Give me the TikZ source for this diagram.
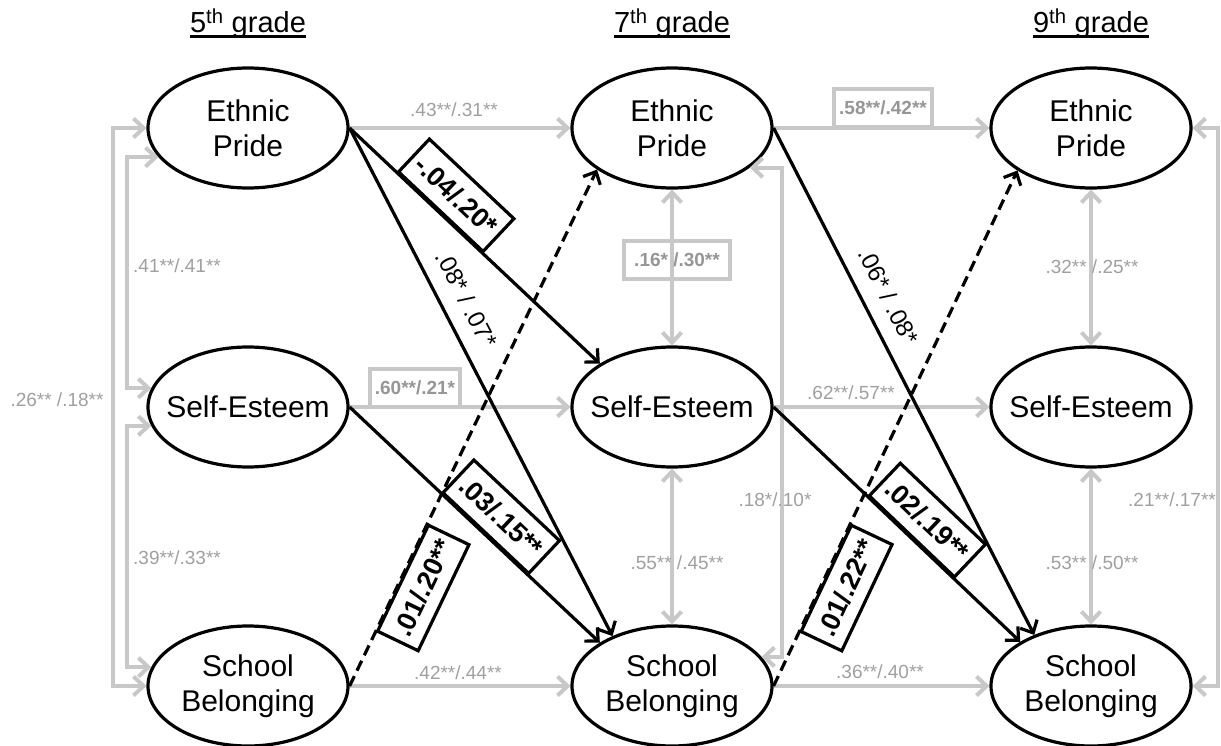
\documentclass[tikz,border=0pt]{standalone}
\usepackage{fontspec}
\setmainfont{Liberation Sans}
\usetikzlibrary{shapes.geometric,arrows.meta}
\definecolor{lgray}{RGB}{200,200,200}
\definecolor{tgray}{RGB}{160,160,160}
\definecolor{bgray}{RGB}{150,150,150}
\newcommand{\ellfont}{\fontsize{30}{35}\selectfont}
\newcommand{\hdrfont}{\fontsize{29}{34}\selectfont}
\newcommand{\glabfont}{\fontsize{19}{22}\selectfont}
\newcommand{\blabfont}{\fontsize{24}{28}\selectfont}
\newcommand{\bboxfont}{\fontsize{27}{31}\selectfont\bfseries}
\newcommand{\hdrul}[1]{\setbox0\hbox{#1\textsuperscript{th} grade}\rlap{\rule[-5pt]{\wd0}{2.6pt}}\box0}
\tikzset{
  ell/.style={ellipse, draw, line width=3.2pt, fill=white, minimum width=200pt, minimum height=120pt, inner sep=0pt},
  garr/.style={draw=lgray, line width=4pt, -{Straight Barb[length=10pt,width=19pt]}},
  gdbl/.style={draw=lgray, line width=4pt, {Straight Barb[length=10pt,width=19pt]}-{Straight Barb[length=10pt,width=19pt]}},
  barr/.style={draw=black, line width=3.2pt, -{Straight Barb[length=10pt,width=19pt]}},
  dsh/.style={dash pattern=on 11pt off 6pt},
  glab/.style={text=tgray, font=\glabfont, inner sep=0pt},
  gbox/.style={draw=lgray, line width=3.5pt, text=bgray, font=\glabfont\bfseries, inner xsep=5pt, inner ysep=0pt, minimum height=38pt},
  bbox/.style={draw=black, solid, line width=3.2pt, font=\bboxfont, inner xsep=7pt, inner ysep=0pt, minimum height=45pt, sloped},
  blab/.style={font=\blabfont, inner xsep=0pt, inner ysep=15pt, sloped}
}
\begin{document}
\begin{tikzpicture}[x=1pt,y=-1pt]
\fill[white] (0,0) rectangle (1221,746);
\useasboundingbox (0,0) rectangle (1221,746);

% headers
\node[anchor=base, font=\hdrfont] (h5) at (248,33) {\hdrul{5}};
\node[anchor=base, font=\hdrfont] (h7) at (672,33) {\hdrul{7}};
\node[anchor=base, font=\hdrfont] (h9) at (1091,33) {\hdrul{9}};

% ellipses
\node[ell, label={[font=\ellfont, align=center]center:{Ethnic\\Pride}}] (ep5) at (248,128) {};
\node[ell, label={[font=\ellfont]center:Self-Esteem}] (se5) at (248,407) {};
\node[ell, label={[font=\ellfont, align=center]center:{School\\Belonging}}] (sb5) at (248,686) {};
\node[ell, label={[font=\ellfont, align=center]center:{Ethnic\\Pride}}] (ep7) at (672,128) {};
\node[ell, label={[font=\ellfont]center:Self-Esteem}] (se7) at (672,407) {};
\node[ell, label={[font=\ellfont, align=center]center:{School\\Belonging}}] (sb7) at (672,686) {};
\node[ell, label={[font=\ellfont, align=center]center:{Ethnic\\Pride}}] (ep9) at (1091,128) {};
\node[ell, label={[font=\ellfont]center:Self-Esteem}] (se9) at (1091,407) {};
\node[ell, label={[font=\ellfont, align=center]center:{School\\Belonging}}] (sb9) at (1091,686) {};

% bracket coordinates
\coordinate (lx1) at (113,0);
\coordinate (lx2) at (127,0);
\coordinate (mx) at (782,0);
\coordinate (rx) at (1218,0);

% gray autoregressive paths
\draw[garr] (ep5.east) -- (ep7.west);
\draw[garr] (se5.east) -- (se7.west);
\draw[garr] (sb5.east) -- (sb7.west);
\draw[garr] (ep7.east) -- (ep9.west);
\draw[garr] (se7.east) -- (se9.west);
\draw[garr] (sb7.east) -- (sb9.west);

% gray within-time correlations
\draw[gdbl] (ep7.south) -- (se7.north);
\draw[gdbl] (se7.south) -- (sb7.north);
\draw[gdbl] (ep9.south) -- (se9.north);
\draw[gdbl] (se9.south) -- (sb9.north);
\draw[gdbl] (ep5.west) -- (ep5.west -| lx1) -- (sb5.west -| lx1) -- (sb5.west);
\draw[gdbl] (ep5.198) -- (ep5.198 -| lx2) -- (se5.169 -| lx2) -- (se5.169);
\draw[gdbl] (se5.191) -- (se5.191 -| lx2) -- (sb5.169 -| lx2) -- (sb5.169);
\draw[gdbl] (ep7.333) -- (ep7.333 -| mx) -- (sb7.18 -| mx) -- (sb7.18);
\draw[gdbl] (ep9.east) -- (ep9.east -| rx) -- (sb9.east -| rx) -- (sb9.east);

% gray labels
\node[glab] (l1) at (454,110) {.43**/.31**};
\node[glab] (l2) at (458,673) {.42**/.44**};
\node[glab] (l3) at (851,393) {.62**/.57**};
\node[glab] (l4) at (880,672) {.36**/.40**};
\node[glab] (l5) at (177,266) {.41**/.41**};
\node[glab] (l6) at (177,558) {.39**/.33**};
\node[glab] (l7) at (57,400) {.26** /.18**};
\node[glab] (l8) at (677,563) {.55** /.45**};
\node[glab] (l9) at (1092,267) {.32** /.25**};
\node[glab] (l10) at (1092,563) {.53** /.50**};
\node[glab] (l11) at (775,500) {.18*/.10*};
\node[glab] (l12) at (1172,500) {.21**/.17**};
\node[gbox] (g1) at (415,388) {.60**/.21*};
\node[gbox] (g2) at (883,108) {.58**/.42**};
\node[gbox, inner xsep=10pt] (g3) at (677,260) {.16* /.30**};

% black cross-lagged paths
\draw[barr] (ep5.east) -- node[bbox, pos=.36, anchor=south] (b1) {-.04/.20*} (se7.149);
\draw[barr] (ep5.east) -- node[blab, pos=.36, anchor=south] (b2) {.08* / .07*} (sb7.140);
\draw[barr] (se5.east) -- node[bbox, pos=.54, anchor=south] (b3) {.03/.15**} (sb7.149);
\draw[barr, dsh] (sb5.east) -- node[bbox, pos=.21, anchor=north] (b4) {.01/.20**} (ep7.209);
\draw[barr] (ep7.east) -- node[blab, pos=.355, anchor=south] (b5) {.06* / .08*} (sb9.138);
\draw[barr] (se7.east) -- node[bbox, pos=.556, anchor=south] (b6) {.02/.19**} (sb9.148);
\draw[barr, dsh] (sb7.east) -- node[bbox, pos=.21, anchor=north] (b7) {.01/.22**} (ep9.210);
\end{tikzpicture}
\end{document}
